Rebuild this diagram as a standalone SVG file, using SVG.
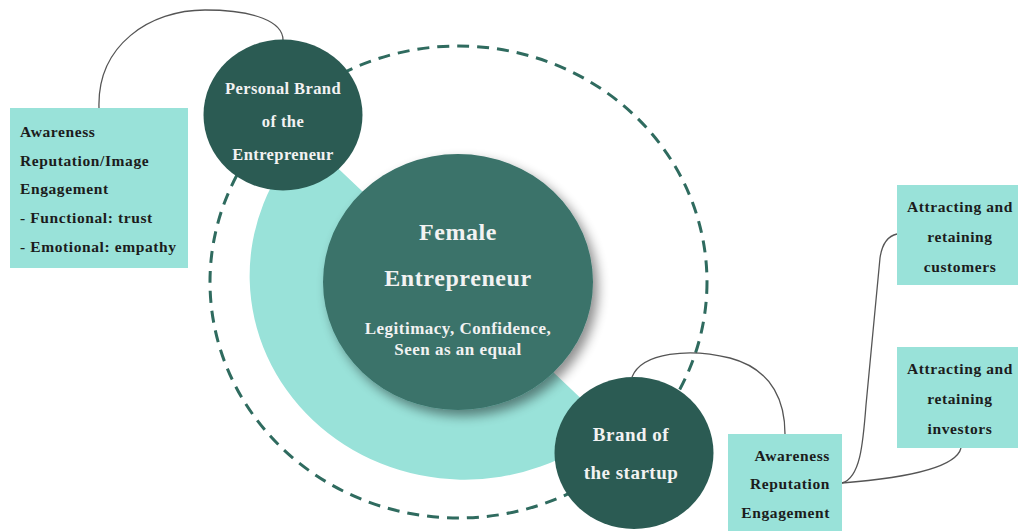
<svg xmlns="http://www.w3.org/2000/svg" width="1018" height="531" viewBox="0 0 1018 531">
  <defs>
    <style>
      .box { fill: #99e2d9; }
      .dark { fill: #2b5b53; }
      .core { fill: #3a736a; }
      .link { fill: none; stroke: #555555; stroke-width: 1.3; }
      .orbit { fill: none; stroke: #2f6b5f; stroke-width: 3; stroke-dasharray: 12 8; }
      text { font-family: "Liberation Serif", "DejaVu Serif", serif; font-weight: bold; }
      .lbl { fill: #1c1c1c; font-size: 15.5px; letter-spacing: 0.6px; }
      .wt { fill: #f2f2f2; text-anchor: middle; }
    </style>
    <filter id="shadow" x="-20%" y="-20%" width="150%" height="150%">
      <feGaussianBlur in="SourceAlpha" stdDeviation="6"/>
      <feOffset dx="5" dy="6" result="b"/>
      <feComponentTransfer><feFuncA type="linear" slope="0.45"/></feComponentTransfer>
      <feMerge><feMergeNode/><feMergeNode in="SourceGraphic"/></feMerge>
    </filter>
  </defs>

  <rect width="1018" height="531" fill="#ffffff"/>

  <!-- half-disc backdrop and dashed orbit -->
  <path d="M306,138 A215,204 0 0 0 610,426 Z" fill="#99e2d9"/>
  <ellipse class="orbit" cx="458.5" cy="282" rx="248.5" ry="236"/>

  <!-- connectors -->
  <g id="connectors">
    <path class="link" d="M99,108 C97,45 150,10 205,10 C255,10 283,22 283,40"/>
    <path class="link" d="M632,377 C642,352 690,348 730,358 C775,370 785,405 785,434"/>
    <path class="link" d="M842,483 C860,478 863,445 866,405 L880,258 C882,244 888,236 897,234"/>
    <path class="link" d="M842,483 C880,480 955,472 961,448"/>
  </g>

  <!-- central node -->
  <g id="female-entrepreneur">
    <ellipse class="core" cx="458" cy="282" rx="135" ry="128" filter="url(#shadow)"/>
    <text class="wt" x="458" y="240" font-size="24" letter-spacing="0.6">Female</text>
    <text class="wt" x="458" y="286" font-size="24" letter-spacing="0.6">Entrepreneur</text>
    <text class="wt" x="458" y="334" font-size="17" letter-spacing="0.5">Legitimacy, Confidence,</text>
    <text class="wt" x="458" y="355" font-size="17" letter-spacing="0.5">Seen as an equal</text>
  </g>

  <g id="personal-brand">
    <ellipse class="dark" cx="283" cy="115" rx="79.5" ry="75.5"/>
    <text class="wt" x="283" y="94" font-size="16.5" letter-spacing="0.4">Personal Brand</text>
    <text class="wt" x="283" y="127" font-size="16.5" letter-spacing="0.4">of the</text>
    <text class="wt" x="283" y="160" font-size="16.5" letter-spacing="0.4">Entrepreneur</text>
  </g>

  <g id="startup-brand">
    <ellipse class="dark" cx="634" cy="453" rx="79.5" ry="76"/>
    <text class="wt" x="631" y="441" font-size="19" letter-spacing="0.5">Brand of</text>
    <text class="wt" x="631" y="479" font-size="19" letter-spacing="0.5">the startup</text>
  </g>

  <g id="personal-outcomes">
    <rect class="box" x="10" y="108" width="178" height="160"/>
    <text class="lbl" x="20" y="137">Awareness</text>
    <text class="lbl" x="20" y="166">Reputation/Image</text>
    <text class="lbl" x="20" y="194">Engagement</text>
    <text class="lbl" x="20" y="223">- Functional: trust</text>
    <text class="lbl" x="20" y="252">- Emotional: empathy</text>
  </g>

  <g id="startup-outcomes">
    <rect class="box" x="728" y="434" width="114" height="97"/>
    <text class="lbl" x="830" y="461" text-anchor="end">Awareness</text>
    <text class="lbl" x="830" y="489" text-anchor="end">Reputation</text>
    <text class="lbl" x="830" y="518" text-anchor="end">Engagement</text>
  </g>

  <g id="customers">
    <rect class="box" x="897" y="185" width="121" height="100"/>
    <text class="lbl" x="960" y="212" text-anchor="middle">Attracting and</text>
    <text class="lbl" x="960" y="242" text-anchor="middle">retaining</text>
    <text class="lbl" x="960" y="272" text-anchor="middle">customers</text>
  </g>

  <g id="investors">
    <rect class="box" x="897" y="347" width="121" height="101"/>
    <text class="lbl" x="960" y="374" text-anchor="middle">Attracting and</text>
    <text class="lbl" x="960" y="404" text-anchor="middle">retaining</text>
    <text class="lbl" x="960" y="434" text-anchor="middle">investors</text>
  </g>
</svg>
